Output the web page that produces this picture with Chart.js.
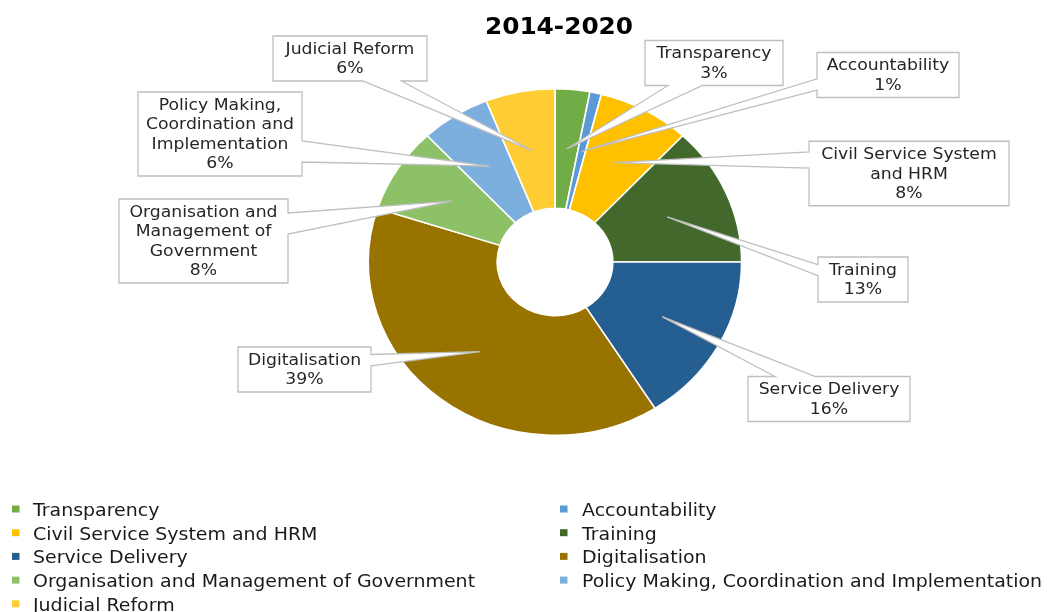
<!DOCTYPE html>
<html>
<head>
<meta charset="utf-8">
<title>2014-2020</title>
<script src="https://cdn.jsdelivr.net/npm/chart.js@4/dist/chart.umd.min.js"></script>
<style>
  html, body { margin: 0; padding: 0; background: #fff; }
  #wrap { width: 1053px; height: 612px; position: relative; }
</style>
</head>
<body>
<div id="wrap"><canvas id="areasChart"></canvas></div>
<script>
const chartTitle = '2014-2020';
const categories = [
    'Transparency',
    'Accountability',
    'Civil Service System and HRM',
    'Training',
    'Service Delivery',
    'Digitalisation',
    'Organisation and Management of Government',
    'Policy Making, Coordination and Implementation',
    'Judicial Reform'
];
const shares = [3, 1, 8, 13, 16, 39, 8, 6, 6];

// line breaks used inside each callout box
const calloutLines = [
    ['Transparency'],
    ['Accountability'],
    ['Civil Service System', 'and HRM'],
    ['Training'],
    ['Service Delivery'],
    ['Digitalisation'],
    ['Organisation and', 'Management of', 'Government'],
    ['Policy Making,', 'Coordination and', 'Implementation'],
    ['Judicial Reform']
];

const sliceColors = ['#70AD47', '#5B9BD5', '#FFC000', '#43682B', '#255E91', '#997300', '#8CC168', '#7CAFDD', '#FFCD33'];

// callout boxes: centre x, centre y, width (px)
const calloutBoxes = [
    [714, 63, 138], [888, 75, 142], [909, 173.5, 200], [863, 279.5, 90], [829, 399, 162],
    [304.5, 369.5, 133], [203.5, 241, 169], [220, 134, 164], [350, 58.5, 154]
];

const SX = 1.077;           // horizontal stretch of the whole drawing
const FONT = '"DejaVu Sans", Verdana, sans-serif';

function stretchedText(ctx, text, x, y, align) {
    ctx.save();
    ctx.translate(x, y);
    ctx.scale(SX, 1);
    ctx.textAlign = align;
    ctx.fillText(text, 0, 0);
    ctx.restore();
}

// rectangle callout with a wedge pointing at (tx, ty)
function drawCallout(ctx, l, t, w, h, tx, ty) {
    const r = l + w, b = t + h;
    const hc = l + w / 2, vc = t + h / 2;
    const dx = tx - hc, dy = ty - vc;
    const dq = dx * h / w;
    let edge, p1, p2;
    if (Math.abs(dy) > Math.abs(dq)) {
        edge = dy > 0 ? 'bottom' : 'top';
        p1 = l + w * (dx > 0 ? 7 : 2) / 12;
        p2 = l + w * (dx > 0 ? 10 : 5) / 12;
    } else {
        edge = dx > 0 ? 'right' : 'left';
        p1 = t + h * (dy > 0 ? 7 : 2) / 12;
        p2 = t + h * (dy > 0 ? 10 : 5) / 12;
    }
    ctx.beginPath();
    ctx.moveTo(l, t);
    if (edge === 'top') { ctx.lineTo(p1, t); ctx.lineTo(tx, ty); ctx.lineTo(p2, t); }
    ctx.lineTo(r, t);
    if (edge === 'right') { ctx.lineTo(r, p1); ctx.lineTo(tx, ty); ctx.lineTo(r, p2); }
    ctx.lineTo(r, b);
    if (edge === 'bottom') { ctx.lineTo(p2, b); ctx.lineTo(tx, ty); ctx.lineTo(p1, b); }
    ctx.lineTo(l, b);
    if (edge === 'left') { ctx.lineTo(l, p2); ctx.lineTo(tx, ty); ctx.lineTo(l, p1); }
    ctx.closePath();
    ctx.fillStyle = '#ffffff';
    ctx.fill();
    ctx.strokeStyle = '#BFBFBF';
    ctx.lineWidth = 1.3;
    ctx.stroke();
}

const stretchPlugin = {
    id: 'stretchPie',
    beforeDatasetsDraw(chart) {
        const meta = chart.getDatasetMeta(0);
        const cx = meta.data[0].x, cy = meta.data[0].y;
        const ctx = chart.ctx;
        ctx.save();
        ctx.translate(cx, cy);
        ctx.scale(SX, 1);
        ctx.translate(-cx, -cy);
    },
    afterDatasetsDraw(chart) {
        chart.ctx.restore();
    }
};

const calloutPlugin = {
    id: 'callouts',
    afterDraw(chart) {
        const ctx = chart.ctx;
        const meta = chart.getDatasetMeta(0);
        const cx = meta.data[0].x;
        const lineH = 19.5;

        ctx.save();
        ctx.font = '16px ' + FONT;
        meta.data.forEach((arc, i) => {
            const c = arc.getCenterPoint();
            const tipX = cx + (c.x - cx) * SX;
            const tipY = c.y;
            const lines = calloutLines[i].concat([shares[i] + '%']);
            const [bx, by, w] = calloutBoxes[i];
            const h = lines.length * lineH + 6;
            drawCallout(ctx, bx - w / 2, by - h / 2, w, h, tipX, tipY);

            ctx.fillStyle = '#262626';
            ctx.textBaseline = 'middle';
            const top = by - (lines.length * lineH) / 2 + lineH / 2 + 1;
            lines.forEach((s, k) => stretchedText(ctx, s, bx, top + k * lineH, 'center'));
        });

        // title
        ctx.fillStyle = '#000000';
        ctx.font = 'bold 23px ' + FONT;
        ctx.textBaseline = 'alphabetic';
        stretchedText(ctx, chartTitle, 559, 34, 'center');

        // two-column legend
        ctx.font = '17.6px ' + FONT;
        categories.forEach((name, i) => {
            const col = i % 2, row = Math.floor(i / 2);
            const base = 516 + row * 23.7;
            const sq = col === 0 ? 12 : 560;
            const tx = col === 0 ? 33 : 582;
            ctx.fillStyle = sliceColors[i];
            ctx.fillRect(sq, base - 10.5, 7.5, 7);
            ctx.fillStyle = '#1a1a1a';
            stretchedText(ctx, name, tx, base, 'left');
        });
        ctx.restore();
    }
};

const ctx = document.getElementById('areasChart').getContext('2d');
new Chart(ctx, {
    type: 'doughnut',
    data: {
        labels: categories,
        datasets: [{
            data: shares,
            backgroundColor: sliceColors,
            borderColor: '#ffffff',
            borderWidth: 1.5
        }]
    },
    options: {
        responsive: true,
        maintainAspectRatio: false,
        animation: false,
        events: [],
        cutout: '31%',
        layout: {
            padding: { left: 381, right: 324, top: 88, bottom: 176 }
        },
        plugins: {
            legend: { display: false },
            title: { display: false },
            tooltip: { enabled: false }
        }
    },
    plugins: [stretchPlugin, calloutPlugin]
});
</script>
</body>
</html>
